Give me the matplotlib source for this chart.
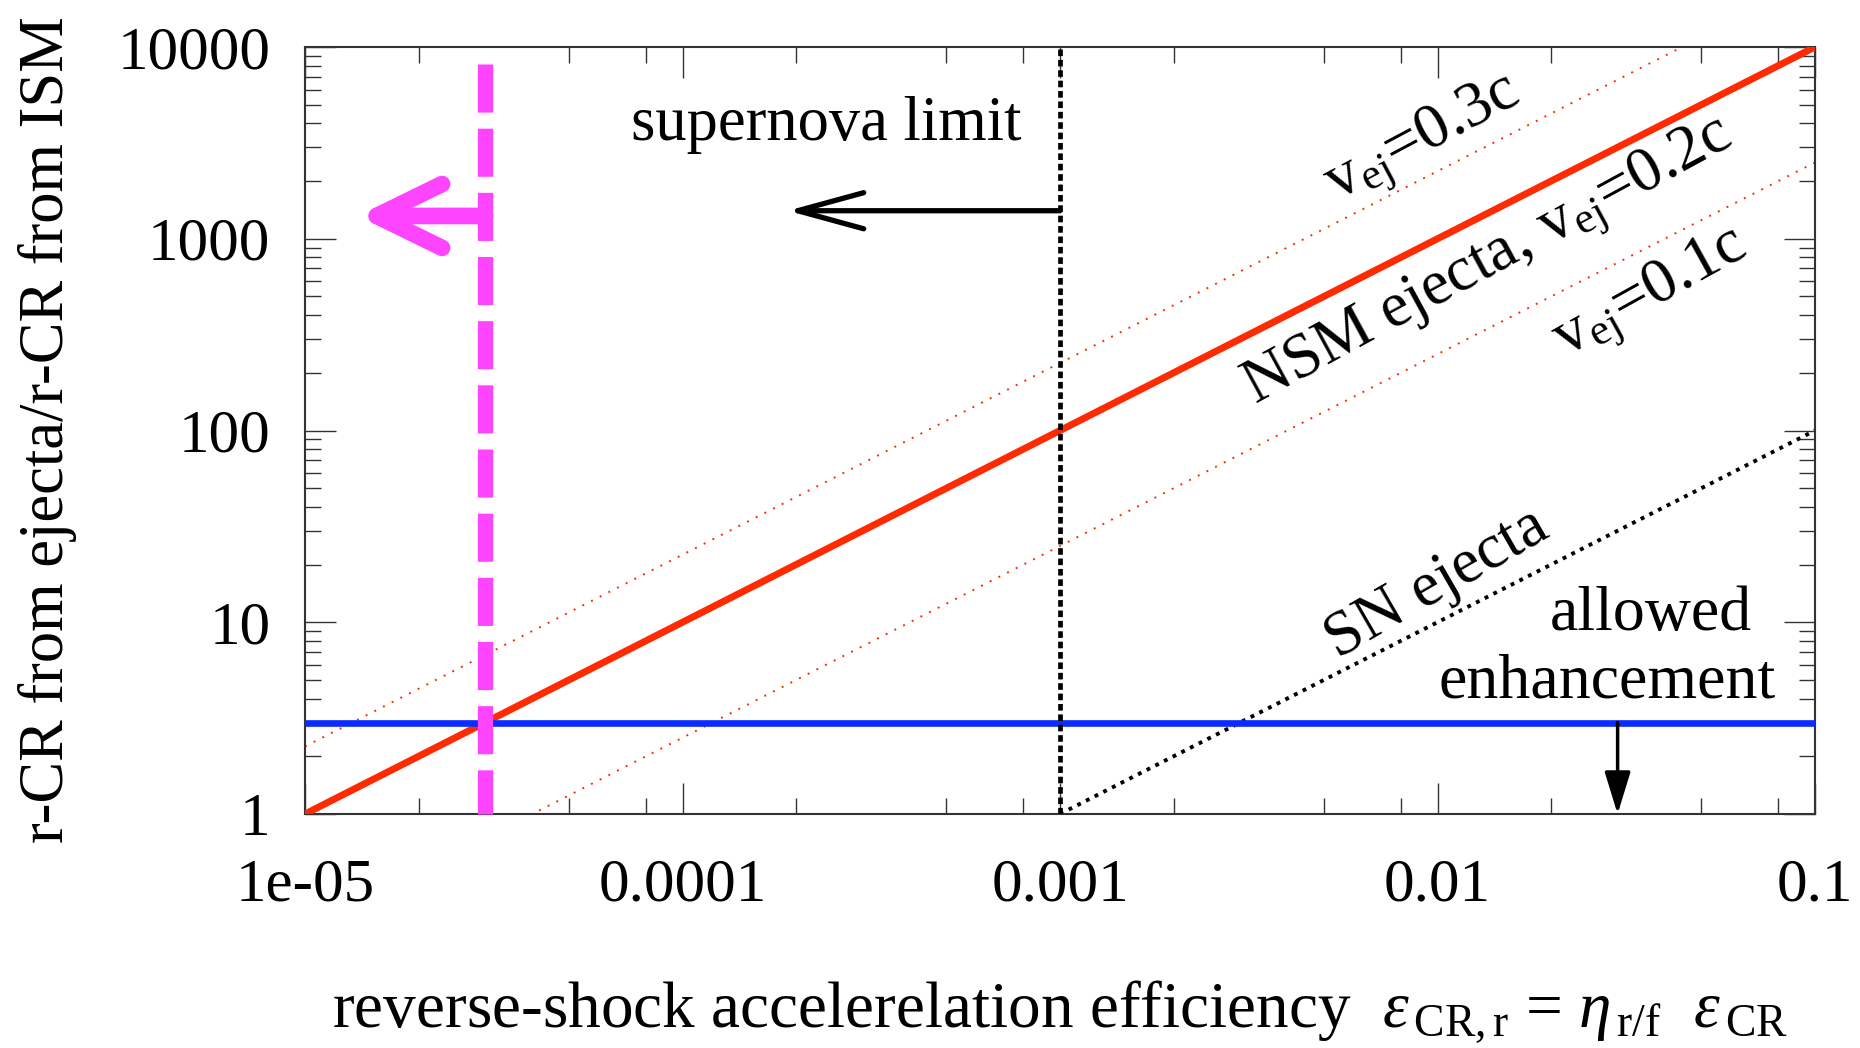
import numpy as np
import matplotlib
matplotlib.use("Agg")
import matplotlib.pyplot as plt
from matplotlib.ticker import LogLocator, NullFormatter, FixedLocator, FixedFormatter
from matplotlib.patches import ArrowStyle

plt.rcParams['font.family'] = ['Liberation Serif', 'DejaVu Serif']
plt.rcParams['mathtext.fontset'] = 'custom'
plt.rcParams['mathtext.rm'] = 'Liberation Serif'
plt.rcParams['mathtext.it'] = 'Liberation Serif:italic'
plt.rcParams['mathtext.sf'] = 'Liberation Sans'

# ---------------- data ----------------
eff_range = [1e-5, 1e-1]            # x extent of NSM lines
nsm_02 = [1.0, 10000.0]              # v_ej = 0.2c
nsm_03 = [2.25, 22500.0]             # v_ej = 0.3c
nsm_01 = [0.25, 2500.0]              # v_ej = 0.1c
sn_eff = [1e-3, 1e-1]
sn_ratio = [1.0, 100.0]
sn_limit = 1e-3                      # supernova limit
allowed_ratio = 3.0                  # allowed enhancement
nsm_limit = 3e-5                     # magenta limit
magenta_top = 8150.0
x_ticks = [1e-5, 1e-4, 1e-3, 1e-2, 1e-1]
x_ticklabels = ['1e-05', '0.0001', '0.001', '0.01', '0.1']
y_ticks = [1, 10, 100, 1000, 10000]
y_ticklabels = ['1', '10', '100', '1000', '10000']

# ---------------- figure ----------------
W, H = 1860, 1048
fig = plt.figure(figsize=(W / 100, H / 100), dpi=100)
ax = fig.add_axes([305 / W, 1 - 814 / H, 1510 / W, 767 / H])
ax.set_xscale('log')
ax.set_yscale('log')
ax.set_xlim(1e-5, 1e-1)
ax.set_ylim(1, 1e4)

red = '#ff2a00'
blue = '#0a2cff'
mag = '#ff44ff'

ax.plot(eff_range, nsm_03, color=red, lw=1.4, ls=(0, (1, 4)), zorder=2)
ax.plot(eff_range, nsm_01, color=red, lw=1.4, ls=(0, (1, 4)), zorder=2)
ax.plot(sn_eff, sn_ratio, color='black', lw=2.8, ls=(0, (1, 1.5)), zorder=2)
ax.plot(eff_range, nsm_02, color=red, lw=5, solid_capstyle='butt', zorder=3)
ax.axhline(allowed_ratio, color=blue, lw=4.8, zorder=4)
ax.plot([sn_limit, sn_limit], [1, 1e4], color='black', lw=3.4,
        ls=(0, (1.4, 0.8)), zorder=5)
ax.plot([nsm_limit, nsm_limit], [magenta_top, 1], color=mag, lw=11,
        ls=(0, (3.15, 1.05)), solid_capstyle='butt', dash_capstyle='butt',
        zorder=6, clip_on=False)

# arrows
ax.annotate('', xy=(1.38e-5, 1315), xytext=(nsm_limit, 1315),
            arrowprops=dict(arrowstyle=ArrowStyle('->', head_length=4.7, head_width=2.3),
                            mutation_scale=10, lw=12, color=mag,
                            shrinkA=0, shrinkB=0, capstyle='round'),
            zorder=7)
ax.annotate('', xy=(1.9e-4, 1400), xytext=(sn_limit, 1400),
            arrowprops=dict(arrowstyle=ArrowStyle('->', head_length=4.75, head_width=1.3),
                            mutation_scale=10, lw=3.8, color='black',
                            shrinkA=0, shrinkB=0),
            zorder=7)
ax.annotate('', xy=(0.03, 1.0), xytext=(0.03, allowed_ratio),
            arrowprops=dict(arrowstyle=ArrowStyle('-|>', head_length=2.6, head_width=0.8),
                            mutation_scale=10, lw=2.5, color='black',
                            shrinkA=0, shrinkB=0),
            zorder=7)

# texts
fs = 46
ax.text(2.41e-4, 3940, 'supernova limit', fontsize=45, ha='center', va='center')
ax.text(9.16e-3, 3275, r'v$_{\mathrm{ej}}$=0.3c', fontsize=fs, rotation=28,
        rotation_mode='anchor', ha='center', va='center')
ax.text(0.01365, 743, r'NSM ejecta, v$_{\mathrm{ej}}$=0.2c', fontsize=fs, rotation=28.5,
        rotation_mode='anchor', ha='center', va='center')
ax.text(0.0368, 513, r'v$_{\mathrm{ej}}$=0.1c', fontsize=fs, rotation=29,
        rotation_mode='anchor', ha='center', va='center')
ax.text(0.01, 15.8, 'SN ejecta', fontsize=fs, rotation=30,
        rotation_mode='anchor', ha='center', va='center')
ax.text(0.0368, 10.9, 'allowed', fontsize=fs, ha='center', va='center')
ax.text(0.0281, 4.85, 'enhancement', fontsize=fs, ha='center', va='center')

# ticks
ax.xaxis.set_major_locator(FixedLocator(x_ticks))
ax.xaxis.set_major_formatter(FixedFormatter(x_ticklabels))
ax.xaxis.set_minor_locator(LogLocator(base=10, subs=[2, 5, 8]))
ax.xaxis.set_minor_formatter(NullFormatter())
ax.yaxis.set_major_locator(FixedLocator(y_ticks))
ax.yaxis.set_major_formatter(FixedFormatter(y_ticklabels))
ax.yaxis.set_minor_locator(LogLocator(base=10, subs=np.arange(2, 10)))
ax.yaxis.set_minor_formatter(NullFormatter())
ax.tick_params(which='both', direction='in', top=True, right=True,
               color='#333333', width=1.0)
ax.tick_params(which='major', length=22)
ax.tick_params(which='minor', length=11.5)
ax.tick_params(axis='x', which='major', labelsize=44, pad=32)
ax.tick_params(axis='y', which='major', labelsize=44, pad=25)
for s in ax.spines.values():
    s.set_linewidth(1.5)
    s.set_color('#333333')

fig.text(48 / W, 0.59, 'r-CR from ejecta/r-CR from ISM', fontsize=45,
         rotation=90, ha='center', va='center')
fig.text(1060 / W, 1 - 1027 / H,
         r'reverse-shock accelerelation efficiency  $\varepsilon_{\,\mathrm{CR,r}}$ = '
         r'$\eta_{\,\mathrm{r/f}}$  $\varepsilon_{\,\mathrm{CR}}$',
         fontsize=47, ha='center', va='baseline')

fig.savefig('out.png', dpi=100)
